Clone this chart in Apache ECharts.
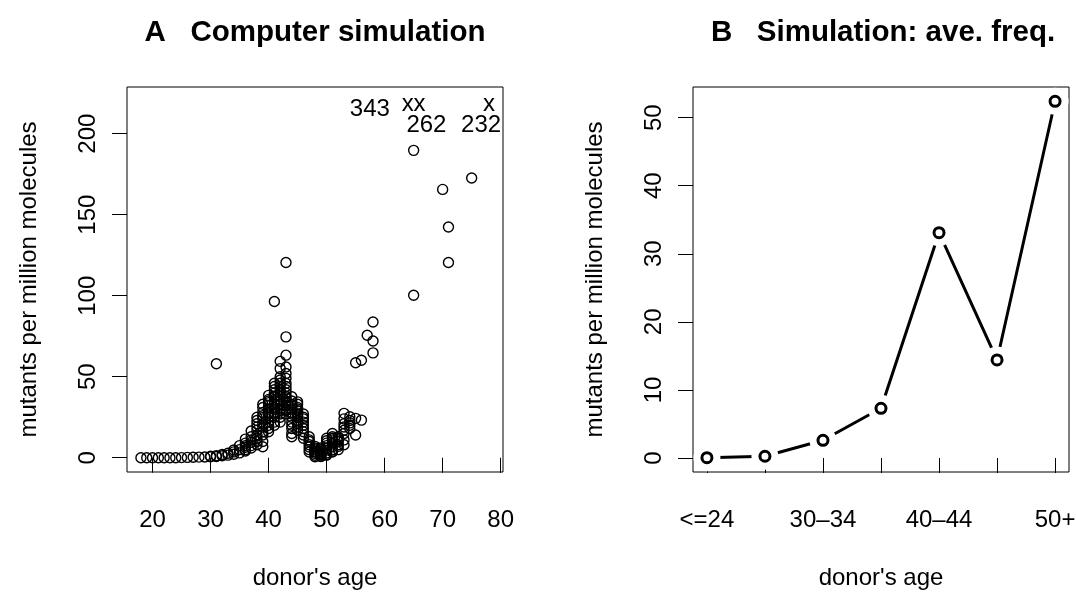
<!DOCTYPE html>
<html>
<head>
<meta charset="utf-8">
<script src="https://cdn.jsdelivr.net/npm/echarts@6/dist/echarts.min.js"></script>
<style>
  html, body { margin: 0; background: #fff; }
  #main { width: 1076px; height: 593px; }
</style>
</head>
<body>
<div id="main"></div>
<script>
// panel A: simulated donors, age vs mutants per million molecules
// (one line per age, ages and mutants line up)
const ages = [
  18, 19, 20, 21, 22, 23, 24, 25, 26, 27, 28, 29,
  30, 30,
  31, 31, 31,
  32, 32,
  33, 33,
  34, 34, 34,
  35, 35, 35,
  36, 36, 36, 36, 36, 36,
  37, 37, 37, 37, 37, 37,
  38, 38, 38, 38, 38, 38, 38, 38, 38,
  39, 39, 39, 39, 39, 39, 39, 39, 39, 39, 39,
  40, 40, 40, 40, 40, 40, 40, 40, 40, 40, 40, 40, 40,
  41, 41, 41, 41, 41, 41, 41, 41, 41, 41, 41, 41, 41, 41, 41, 41,
  42, 42, 42, 42, 42, 42, 42, 42, 42, 42, 42, 42, 42, 42, 42, 42, 42,
  43, 43, 43, 43, 43, 43, 43, 43, 43, 43, 43, 43, 43, 43, 43, 43, 43, 43,
  44, 44, 44, 44, 44, 44, 44, 44, 44, 44, 44, 44, 44,
  45, 45, 45, 45, 45, 45, 45, 45, 45, 45, 45, 45, 45,
  46, 46, 46, 46, 46, 46, 46, 46, 46,
  47, 47, 47, 47, 47, 47, 47,
  48, 48, 48, 48, 48, 48, 48, 48,
  49, 49, 49, 49, 49, 49, 49, 49, 49,
  50, 50, 50, 50, 50, 50, 50, 50, 50,
  51, 51, 51, 51, 51, 51, 51, 51, 51,
  52, 52, 52, 52, 52, 52, 52,
  53, 53, 53, 53, 53, 53, 53, 53,
  54, 54, 54, 54, 54,
  55, 55, 55,
  56, 56,
  57,
  58, 58, 58,
  65, 65,
  70,
  71, 71,
  75
];
const mutants = [
  0, 0, 0, 0, 0, 0, 0, 0.1, 0.2, 0.3, 0.4, 0.5,
  0.6, 0.9,
  0.8, 1.3, 58,
  1.2, 2,
  1.6, 2.8,
  2.2, 3.6, 4.8,
  3, 5, 7.5,
  4.2, 5, 6.5, 7.5, 9, 11.5,
  6, 7.5, 9.5, 11, 13, 16.5,
  8, 10, 12, 14, 17, 19, 21, 23, 25,
  6.8, 10, 14, 16, 19, 21, 24, 26, 28, 31, 33,
  16, 18, 20, 22, 25, 27, 28, 30, 32, 34, 35, 36, 38.5,
  20, 22, 25, 27, 28, 30, 31, 33, 35, 37.5, 38, 40, 42, 44, 46, 96.4,
  22, 25, 27, 29, 30, 33, 35, 36, 38, 40, 42, 44, 46, 48, 50, 55, 59.5,
  27, 29, 30, 32, 34, 35, 37, 38, 40, 42, 44, 46, 49, 52, 56, 63.3, 74.6, 120.5,
  13, 15, 18, 20, 22, 25, 27, 28, 30, 32, 33, 35, 37.6,
  17, 19, 21, 22, 23, 25, 26, 27, 29, 30, 31, 33, 34.5,
  12, 14, 16, 18, 20, 22, 24, 25, 27,
  3.5, 5, 6.6, 8, 10, 11, 13,
  0.6, 1.5, 2.7, 3.5, 4, 5, 6, 7,
  0.8, 1, 1.7, 2, 2.5, 3, 4, 5, 6,
  1.5, 2, 3, 4.7, 6, 7.5, 9, 10.5, 12,
  3.5, 4, 5, 6.8, 9, 11, 12, 13, 15,
  5, 7, 8, 9.9, 11, 12, 13,
  8, 11, 15, 17, 19, 21, 24, 27.4,
  18, 20, 21.5, 23, 25.3,
  14, 24.3, 58.6,
  23.2, 60.2,
  75.6,
  64.7, 72, 83.8,
  100.3, 189.7,
  165.6,
  120.5, 142.4,
  172.6
];
// values above the plot top, drawn as "x" at the cap with the real count
const overAges = [64, 66, 78];
const overCounts = [343, 262, 232];
const capValue = 220;

const ticksAX = [20, 30, 40, 50, 60, 70, 80];
const ticksAY = [0, 50, 100, 150, 200];

// panel B: average frequency per age group
const groups = ['<=24', '25\u201329', '30\u201334', '35\u201339', '40\u201344', '45\u201349', '50+'];
const groupMeans = [0.05, 0.25, 2.6, 7.3, 33.1, 14.4, 52.4];
const ticksBX = [1, 2, 3, 4, 5, 6, 7];
const labelsBX = [1, 3, 5, 7];
const ticksBY = [0, 10, 20, 30, 40, 50];

const FONT = '"Liberation Sans", Arial, Helvetica, sans-serif';
const countOffsets = [[-38, 8], [7, 24], [-8, 24]];

function xAxisCfg(grid, min, max, ticks, labels, fmt) {
  return {
    type: 'value', gridIndex: grid, min: min, max: max,
    name: "donor's age", nameLocation: 'middle', nameGap: 94,
    nameTextStyle: {color: '#000', fontSize: 24, fontFamily: FONT},
    axisLine: {show: false},
    axisTick: {show: true, inside: false, length: 15, customValues: ticks,
      lineStyle: {color: '#000', width: 1}},
    axisLabel: {show: true, margin: 36, customValues: labels, formatter: fmt,
      color: '#000', fontSize: 24, fontFamily: FONT},
    splitLine: {show: false}
  };
}

function yAxisCfg(grid, min, max, ticks) {
  return {
    type: 'value', gridIndex: grid, min: min, max: max,
    name: 'mutants per million molecules', nameLocation: 'middle', nameGap: 86,
    nameRotate: 90,
    nameTextStyle: {color: '#000', fontSize: 24, fontFamily: FONT},
    axisLine: {show: false},
    axisTick: {show: true, inside: false, length: 15, customValues: ticks,
      lineStyle: {color: '#000', width: 1}},
    axisLabel: {show: true, margin: 27, rotate: 90, customValues: ticks,
      color: '#000', fontSize: 24, fontFamily: FONT},
    splitLine: {show: false}
  };
}

const gridBase = {top: 87, width: 376, height: 385, show: true, borderColor: '#000', borderWidth: 1,
  containLabel: false, outerBoundsMode: 'none'};

const chart = echarts.init(document.getElementById('main'));
chart.setOption({
  animation: false,
  backgroundColor: '#fff',
  graphic: [
    {type: 'text', x: 315, y: 33, style: {text: 'A   Computer simulation', fill: '#000',
      font: 'bold 29.5px ' + FONT, textAlign: 'center', textVerticalAlign: 'middle'}},
    {type: 'text', x: 883, y: 33, style: {text: 'B   Simulation: ave. freq.', fill: '#000',
      font: 'bold 29.5px ' + FONT, textAlign: 'center', textVerticalAlign: 'middle'}}
  ],
  grid: [
    Object.assign({left: 127}, gridBase),
    Object.assign({left: 693}, gridBase)
  ],
  xAxis: [
    xAxisCfg(0, 15.6, 80.4, ticksAX, ticksAX),
    xAxisCfg(1, 0.76, 7.24, ticksBX, labelsBX, v => groups[Math.round(v) - 1])
  ],
  yAxis: [
    yAxisCfg(0, -8.8, 228.8, ticksAY),
    yAxisCfg(1, -2.06, 54.5, ticksBY)
  ],
  series: [
    {
      type: 'scatter', xAxisIndex: 0, yAxisIndex: 0,
      data: ages.map((a, i) => [a, mutants[i]]),
      symbol: 'circle', symbolSize: 10,
      itemStyle: {color: 'rgba(0,0,0,0)', borderColor: '#000', borderWidth: 1.4, opacity: 1}
    },
    {
      type: 'scatter', xAxisIndex: 0, yAxisIndex: 0,
      data: overAges.map(a => [a, capValue]),
      symbolSize: 0.01, itemStyle: {opacity: 1},
      label: {show: true, position: 'inside', offset: [0, 3], formatter: 'x',
        color: '#000', fontSize: 24, fontFamily: FONT}
    },
    {
      type: 'scatter', xAxisIndex: 0, yAxisIndex: 0,
      data: overAges.map((a, i) => ({value: [a, capValue], label: {offset: countOffsets[i]}})),
      symbolSize: 0.01, itemStyle: {opacity: 1},
      label: {show: true, position: 'inside', formatter: p => String(overCounts[p.dataIndex]),
        color: '#000', fontSize: 24, fontFamily: FONT}
    },
    {
      type: 'line', xAxisIndex: 1, yAxisIndex: 1,
      data: groupMeans.map((v, i) => [i + 1, v]),
      symbol: 'none', lineStyle: {color: '#000', width: 3}, z: 2
    },
    {
      // white halo so the line stops short of each point, like type = "b"
      type: 'scatter', xAxisIndex: 1, yAxisIndex: 1,
      data: groupMeans.map((v, i) => [i + 1, v]),
      symbolSize: 27, itemStyle: {color: '#fff', opacity: 1}, z: 3
    },
    {
      type: 'scatter', xAxisIndex: 1, yAxisIndex: 1,
      data: groupMeans.map((v, i) => [i + 1, v]),
      symbolSize: 10,
      itemStyle: {color: 'rgba(0,0,0,0)', borderColor: '#000', borderWidth: 3, opacity: 1}, z: 4
    }
  ]
});
</script>
</body>
</html>
